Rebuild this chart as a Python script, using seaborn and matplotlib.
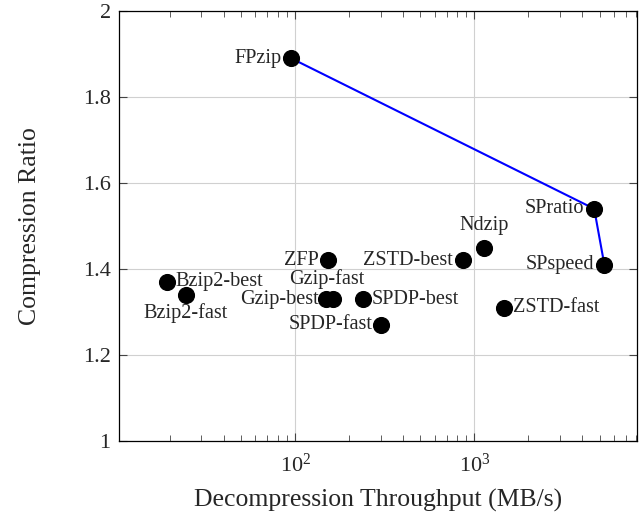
import matplotlib
matplotlib.use("Agg")
import matplotlib.pyplot as plt
import seaborn as sns
import pandas as pd
from matplotlib.ticker import LogLocator, FixedLocator, NullFormatter

# compressor results
names = ["FPzip", "SPratio", "SPspeed", "Ndzip", "ZSTD-best", "ZSTD-fast",
         "SPDP-best", "SPDP-fast", "ZFP", "Gzip-best", "Gzip-fast",
         "Bzip2-best", "Bzip2-fast"]
throughput = [95, 4660, 5310, 1133, 861, 1465,
              239, 302, 153, 149, 162,
              19.2, 24.5]
ratio = [1.89, 1.54, 1.41, 1.45, 1.42, 1.31,
         1.33, 1.27, 1.42, 1.33, 1.33,
         1.37, 1.34]
# pareto front
front_names = ["FPzip", "SPratio", "SPspeed"]

# label placement (offset in pixels, horizontal alignment)
label_pos = {
    "FPzip": (-10, 0, "right"), "SPratio": (-10, 0, "right"),
    "SPspeed": (-10, 0, "right"), "Ndzip": (0, 22, "center"),
    "ZSTD-best": (-10, 0, "right"), "ZSTD-fast": (9, 0, "left"),
    "SPDP-best": (9, 0, "left"), "SPDP-fast": (-9, 0, "right"),
    "ZFP": (-10, 0, "right"), "Gzip-best": (-7, 0, "right"),
    "Gzip-fast": (-6, 20, "center"), "Bzip2-best": (9, 0, "left"),
    "Bzip2-fast": (0, -18, "center"),
}

df = pd.DataFrame({"name": names, "tp": throughput, "cr": ratio})
front = df.set_index("name").loc[front_names].reset_index()

sns.set_style("ticks")
plt.rcParams["font.family"] = ["Liberation Serif", "DejaVu Serif"]
plt.rcParams["mathtext.fontset"] = "custom"
plt.rcParams["mathtext.rm"] = "Liberation Serif"
plt.rcParams["mathtext.it"] = "Liberation Serif:italic"

fig = plt.figure(figsize=(6.42, 5.18), dpi=100)
ax = fig.add_axes([0.1854, 0.1486, 0.8064, 0.8302])

sns.lineplot(data=front, x="tp", y="cr", color="blue", lw=1.5, sort=False,
             estimator=None, ax=ax, zorder=2)
sns.scatterplot(data=df, x="tp", y="cr", color="black", s=130,
                edgecolor="black", ax=ax, zorder=3)

for n, x, y in zip(names, throughput, ratio):
    dx, dy, ha = label_pos[n]
    ax.annotate(n, (x, y), xytext=(dx, dy), textcoords="offset pixels",
                ha=ha, va="center", fontsize=14.6, zorder=4)

ax.set_xscale("log")
ax.set_xlim(10.4, 8050)
ax.set_ylim(1, 2)
ax.set_yticks([1, 1.2, 1.4, 1.6, 1.8, 2])
ax.set_yticklabels(["1", "1.2", "1.4", "1.6", "1.8", "2"])
ax.xaxis.set_major_locator(FixedLocator([100, 1000]))
ax.xaxis.set_minor_locator(LogLocator(base=10, subs=range(2, 10)))
ax.xaxis.set_minor_formatter(NullFormatter())
ax.set_xticklabels([r"$10^2$", r"$10^3$"])

ax.grid(True, which="major", color="#d0d0d0", lw=0.8)
ax.tick_params(which="both", direction="in", top=True, right=True,
               labelsize=16, color="#444444")
ax.tick_params(which="major", length=6)
ax.tick_params(axis="x", which="major", pad=9)
ax.tick_params(axis="y", which="major", pad=6)
ax.tick_params(which="minor", length=4)
for sp in ax.spines.values():
    sp.set_color("black")
    sp.set_linewidth(0.9)

ax.set_xlabel("Decompression Throughput (MB/s)", fontsize=18.5, labelpad=9)
ax.set_ylabel("Compression Ratio", fontsize=18.5, labelpad=30)

fig.savefig("out.png", dpi=100)
